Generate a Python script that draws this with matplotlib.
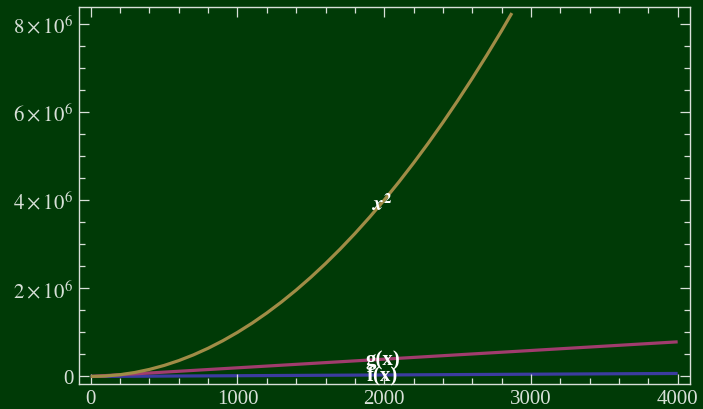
import matplotlib
matplotlib.use('Agg')
import matplotlib.pyplot as plt
from matplotlib.ticker import MultipleLocator, FuncFormatter

# values
xSquare = [0, 100, 200, 300, 400, 500, 600, 700, 800, 900, 1000, 1100, 1200,
           1300, 1400, 1500, 1600, 1700, 1800, 1900, 2000, 2100, 2200, 2300,
           2400, 2500, 2600, 2700, 2800, 2870]
ySquare = [0, 10000, 40000, 90000, 160000, 250000, 360000, 490000, 640000,
           810000, 1000000, 1210000, 1440000, 1690000, 1960000, 2250000,
           2560000, 2890000, 3240000, 3610000, 4000000, 4410000, 4840000,
           5290000, 5760000, 6250000, 6760000, 7290000, 7840000, 8240000]
xLinear = [0, 4000]
yG = [0, 785000]
yF = [0, 68000]

labelNames = [r'$\mathbfit{x}^{\mathbf{2}}$', 'g(x)', 'f(x)']
labelX = [1985, 1990, 1990]
labelY = [3910000, 400000, 45000]

bgColor = '#003a06'
fgColor = '#d8e0d8'

plt.rcParams['font.family'] = ['Liberation Serif', 'DejaVu Serif']
plt.rcParams['mathtext.fontset'] = 'stix'

fig = plt.figure(figsize=(7.03, 4.10), dpi=100)
fig.patch.set_facecolor(bgColor)
ax = fig.add_axes([0.112, 0.06, 0.8695, 0.9205])
ax.set_facecolor(bgColor)

ax.plot(xSquare, ySquare, color='#a08c46', lw=2.3, solid_capstyle='butt', zorder=3)
ax.plot(xLinear, yG, color='#a03c6e', lw=2.3, solid_capstyle='butt', zorder=2)
ax.plot(xLinear, yF, color='#3c3ca0', lw=2.3, solid_capstyle='butt', zorder=1)

for name, lx, ly in zip(labelNames, labelX, labelY):
    ax.text(lx, ly, name, color='white', fontsize=15, fontweight='bold',
            ha='center', va='center', zorder=5)

ax.set_xlim(-82, 4084)
ax.set_ylim(-180000, 8378000)

ax.xaxis.set_major_locator(MultipleLocator(1000))
ax.xaxis.set_minor_locator(MultipleLocator(200))
ax.yaxis.set_major_locator(MultipleLocator(2000000))
ax.yaxis.set_minor_locator(MultipleLocator(500000))


def sciFormat(v, pos):
    if v == 0:
        return '0'
    return r'$%d\times10^{6}$' % round(v / 1e6)


ax.yaxis.set_major_formatter(FuncFormatter(sciFormat))

ax.tick_params(which='both', direction='in', top=True, right=True,
               colors=fgColor, labelcolor=fgColor, labelsize=15, width=0.9)
ax.tick_params(which='major', length=7)
ax.tick_params(which='minor', length=4)
ax.tick_params(axis='x', pad=3)
ax.tick_params(axis='y', pad=4)

for spine in ax.spines.values():
    spine.set_color(fgColor)
    spine.set_linewidth(1.0)

fig.savefig('out.png', dpi=100, facecolor=bgColor)
